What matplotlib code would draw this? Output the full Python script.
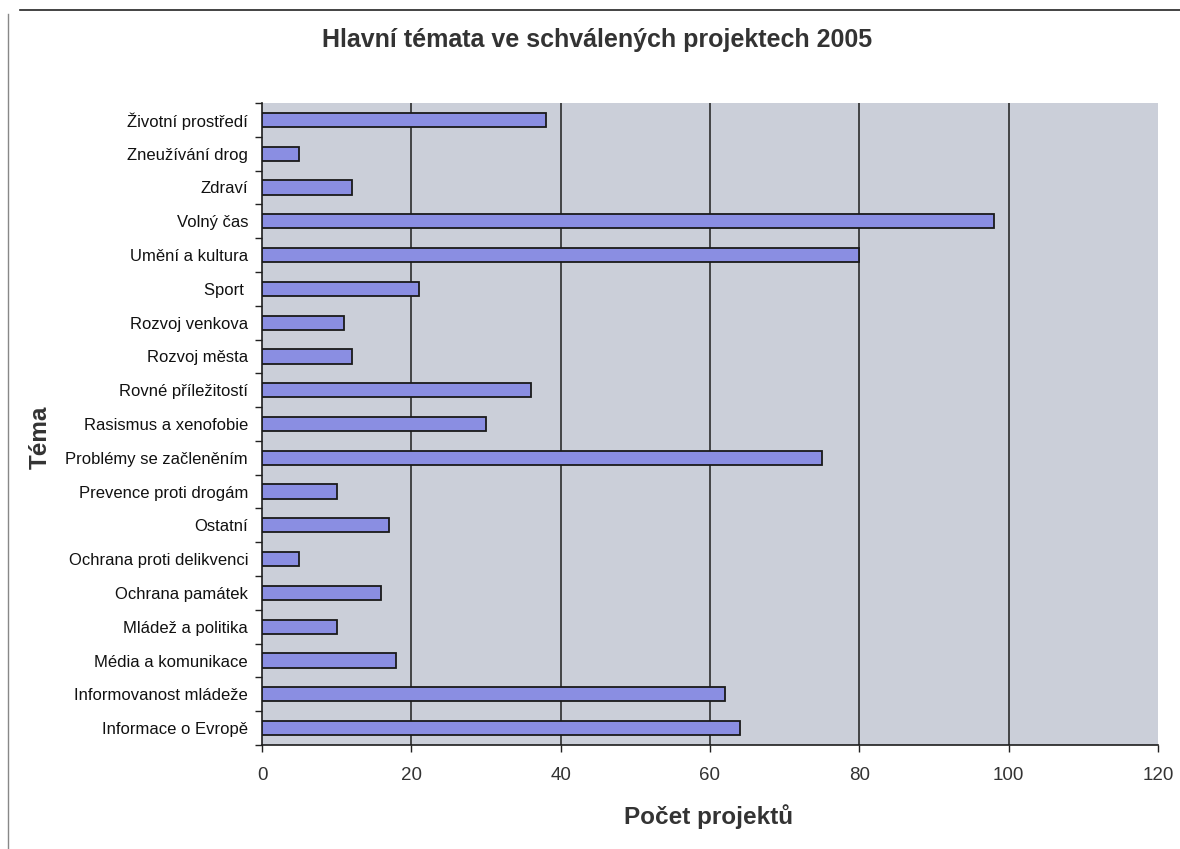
import matplotlib
matplotlib.use("Agg")
import matplotlib.pyplot as plt
from matplotlib.lines import Line2D
import numpy as np

categories = [
    "Životní prostředí", "Zneužívání drog", "Zdraví", "Volný čas",
    "Umění a kultura", "Sport ", "Rozvoj venkova", "Rozvoj města",
    "Rovné příležitostí", "Rasismus a xenofobie", "Problémy se začleněním",
    "Prevence proti drogám", "Ostatní", "Ochrana proti delikvenci",
    "Ochrana památek", "Mládež a politika", "Média a komunikace",
    "Informovanost mládeže", "Informace o Evropě",
]
values = [38, 5, 12, 98, 80, 21, 11, 12, 36, 30, 75, 10, 17, 5, 16, 10, 18, 62, 64]
x_ticks = [0, 20, 40, 60, 80, 100, 120]

plt.rcParams['font.family'] = ['Liberation Sans', 'DejaVu Sans']

fig = plt.figure(figsize=(11.8, 8.49), dpi=100)
fig.patch.set_facecolor("white")
W, H = 1180, 849
left, right, top, bottom = 262, 1158, 103, 745
ax = fig.add_axes([left / W, 1 - bottom / H, (right - left) / W, (bottom - top) / H])
ax.set_facecolor("#cbcfd9")

n = len(categories)
y = np.arange(n)
ax.barh(y, values, height=0.42, color="#8a8ee2", edgecolor="#1a1a1a", linewidth=1.3, zorder=3)

ax.set_xlim(0, 120)
ax.set_ylim(n - 0.5, -0.5)
ax.set_xticks(x_ticks)
ax.set_xticklabels([str(t) for t in x_ticks], fontsize=13.5, color="#333333")
ax.tick_params(axis="x", direction="out", length=5, width=1, pad=11, color="#222222")
ax.set_yticks(y)
ax.set_yticklabels(categories, fontsize=12, color="#111111")
ax.tick_params(axis="y", which="major", length=0, pad=10)
ax.set_yticks(np.arange(-0.5, n, 1.0), minor=True)
ax.tick_params(axis="y", which="minor", direction="out", length=5, width=1, color="#222222")

for g in x_ticks[1:-1]:
    ax.axvline(g, color="#1e1e1e", linewidth=1.1, zorder=1)

for s in ["top", "right"]:
    ax.spines[s].set_visible(False)
ax.spines["left"].set_color("#1e1e1e")
ax.spines["bottom"].set_color("#1e1e1e")
ax.spines["left"].set_linewidth(1.2)
ax.spines["bottom"].set_linewidth(1.2)

fig.text(597 / W, 1 - 40 / H, "Hlavní témata ve schválených projektech 2005",
         ha="center", va="center", fontsize=18, fontweight="bold", color="#333333")
fig.text(709 / W, 1 - 817 / H, "Počet projektů", ha="center", va="center",
         fontsize=17.5, fontweight="bold", color="#333333")
fig.text(40 / W, 1 - 437 / H, "Téma", ha="center", va="center", rotation=90,
         fontsize=17.5, fontweight="bold", color="#333333")

# page frame lines
fig.add_artist(Line2D([20 / W, 1], [1 - 10 / H, 1 - 10 / H], color="#222222", linewidth=1.2))
fig.add_artist(Line2D([8 / W, 8 / W], [0, 1 - 14 / H], color="#888888", linewidth=1.0))

fig.savefig("out.png", dpi=100, facecolor="white")
